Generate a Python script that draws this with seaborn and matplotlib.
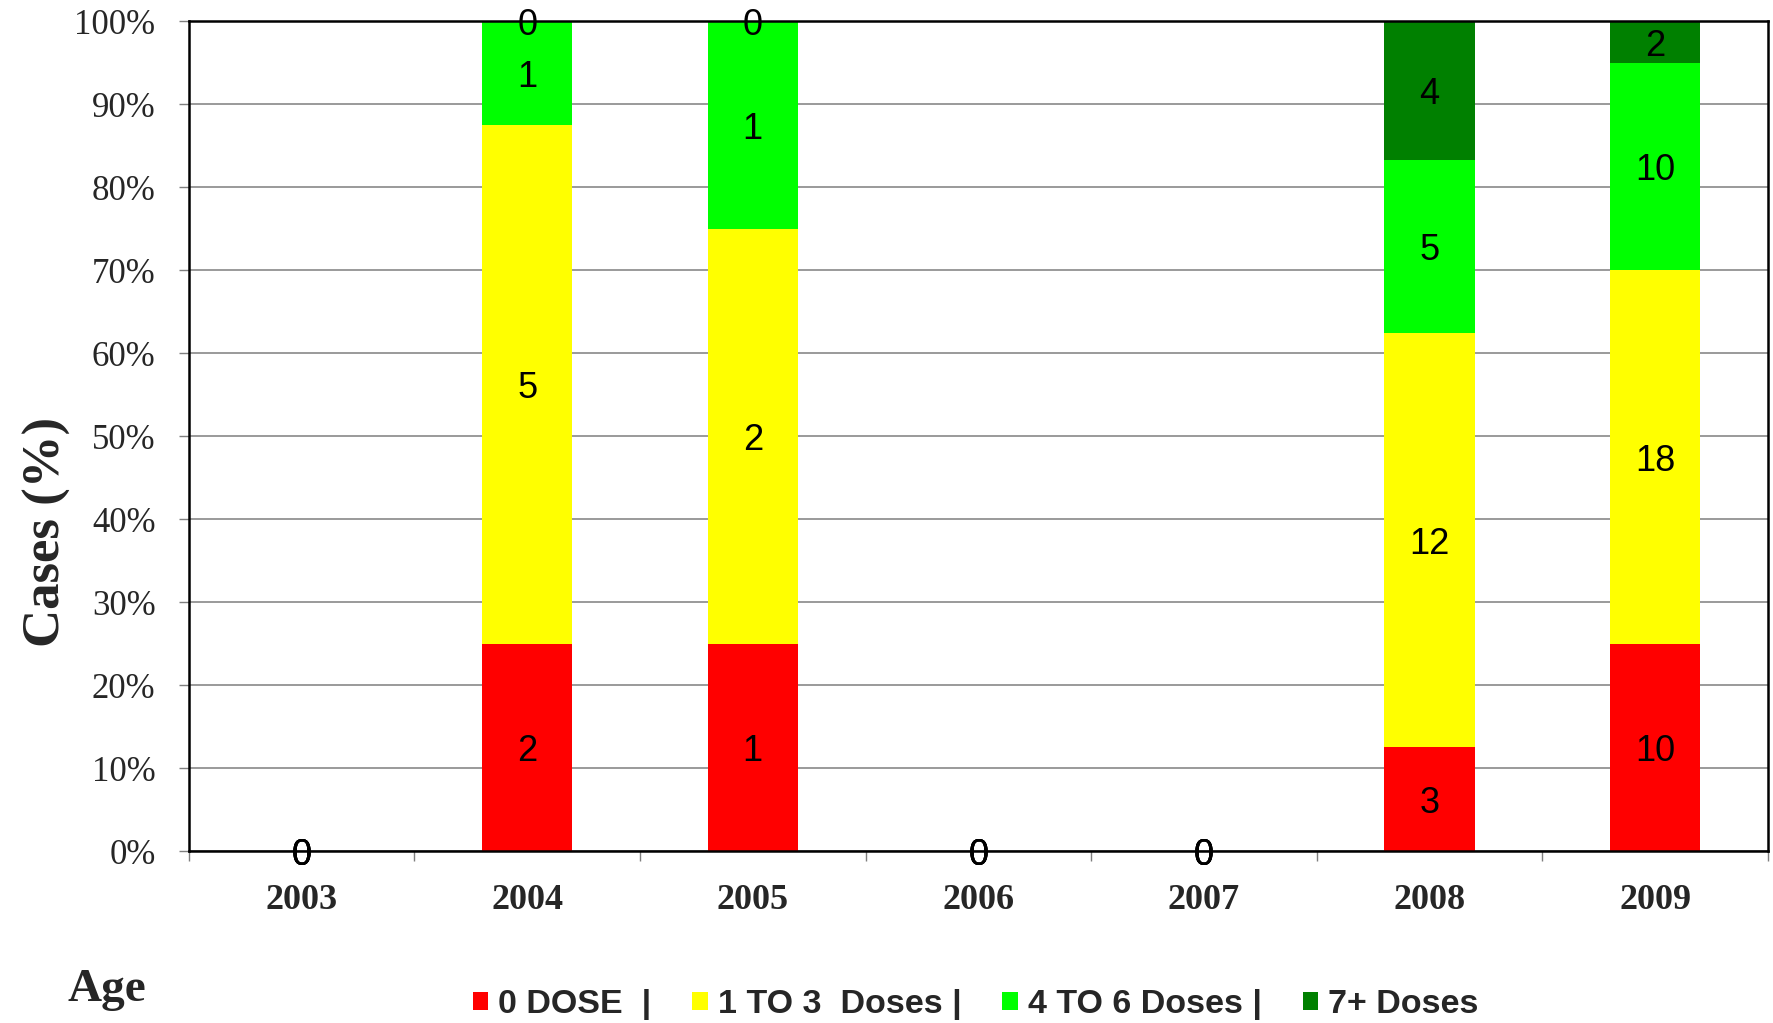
import matplotlib
matplotlib.use("Agg")
import matplotlib.pyplot as plt
from matplotlib.patches import Patch
import seaborn as sns
import numpy as np

# --- Data (case counts per vaccination status) ---
YEARS = ["2003", "2004", "2005", "2006", "2007", "2008", "2009"]
DOSE_0 = [0, 2, 1, 0, 0, 3, 10]
DOSE_1_3 = [0, 5, 2, 0, 0, 12, 18]
DOSE_4_6 = [0, 1, 1, 0, 0, 5, 10]
DOSE_7P = [0, 0, 0, 0, 0, 4, 2]
SERIES_NAMES = ["0 DOSE  |", "1 TO 3  Doses |", "4 TO 6 Doses |", "7+ Doses"]
Y_TICKS = list(range(0, 101, 10))

# --- Style ---
COLORS = ["#FF0000", "#FFFF00", "#00FF00", "#008000"]
COLOR_GRID = "#7F7F7F"
SERIF = ["Liberation Serif", "DejaVu Serif"]
SANS = ["Liberation Sans", "DejaVu Sans"]


def setup_style():
    sns.set_style("white")
    plt.rcParams['font.family'] = SERIF
    plt.rcParams['axes.edgecolor'] = "black"


def main():
    setup_style()
    counts = np.array([DOSE_0, DOSE_1_3, DOSE_4_6, DOSE_7P], dtype=float)
    totals = counts.sum(axis=0)
    pct = np.divide(counts, totals, out=np.zeros_like(counts), where=totals > 0) * 100
    cum = pct.cumsum(axis=0)

    fig = plt.figure(figsize=(17.74, 10.23), dpi=100)
    ax = fig.add_axes([0.1065, 0.168, 0.89, 0.811])

    # stacked bars: draw cumulative heights from the top layer down
    for i in reversed(range(len(COLORS))):
        sns.barplot(x=YEARS, y=cum[i], color=COLORS[i], width=0.4, saturation=1,
                    errorbar=None, linewidth=0, ax=ax, zorder=2)

    for i in range(len(COLORS)):
        for j in range(len(YEARS)):
            yc = cum[i][j] - pct[i][j] / 2
            ax.text(j, yc, f"{int(counts[i][j])}", ha='center', va='center_baseline',
                    fontsize=26, family=SANS, color="black", zorder=5)

    ax.set_xlim(-0.5, 6.5)
    ax.set_ylim(0, 100)
    ax.set_yticks(Y_TICKS)
    ax.set_yticklabels([f"{v}%" for v in Y_TICKS], fontsize=25)
    ax.set_xticks(range(len(YEARS)))
    ax.set_xticklabels(YEARS, fontsize=26, fontweight='bold')
    ax.set_xticks(np.arange(-0.5, len(YEARS), 1), minor=True)

    ax.tick_params(axis='x', which='major', length=0, pad=24, bottom=True)
    ax.tick_params(axis='x', which='minor', length=7, width=1, color=COLOR_GRID,
                   direction='out', bottom=True)
    ax.tick_params(axis='y', which='major', length=7, width=1, color=COLOR_GRID,
                   direction='out', left=True, pad=17)

    ax.yaxis.grid(True, color=COLOR_GRID, linewidth=1.1)
    ax.xaxis.grid(False)
    ax.set_axisbelow(True)
    for side in ['left', 'right', 'top', 'bottom']:
        ax.spines[side].set_linewidth(1.8)
        ax.spines[side].set_color("black")
        ax.spines[side].set_zorder(4)

    ax.set_xlabel("")
    ax.set_ylabel("Cases (%)", fontsize=38, fontweight='bold')
    ax.yaxis.set_label_coords(-0.075, 0.385)

    fig.text(0.038, 0.0215, "Age", fontsize=34, fontweight='bold', va='baseline', ha='left')

    handles = [Patch(facecolor=c, edgecolor='none') for c in COLORS]
    fig.legend(handles, SERIES_NAMES, loc='center', bbox_to_anchor=(0.55, 0.018),
               ncol=4, frameon=False, handlelength=0.45, handleheight=0.45,
               handletextpad=0.3, columnspacing=1.2,
               prop={'family': SANS, 'weight': 'bold', 'size': 24.5})

    fig.savefig("out.png", dpi=100)
    plt.close(fig)


if __name__ == "__main__":
    main()
